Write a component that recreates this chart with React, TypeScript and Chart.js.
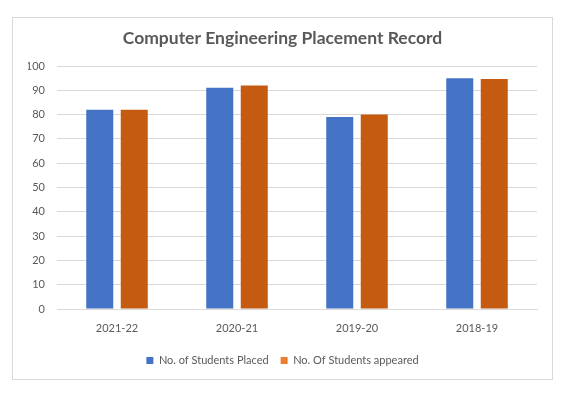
import React, { useEffect, useRef } from "react";
import { Chart, registerables } from "chart.js";

Chart.register(...registerables);

const chartTitle = "Computer Engineering Placement Record";
const categories = ["2021-22", "2020-21", "2019-20", "2018-19"];
const seriesNames = ["No. of Students Placed", "No. Of Students appeared"];
const placed = [82, 91, 79, 95];
const appeared = [82, 92, 80, 94.6];
const yMin = 0;
const yMax = 100;
const yStep = 10;

const BLUE = "#4472C4";
const ORANGE_BAR = "#C55A11";
const ORANGE_LEGEND = "#ED7D31";
const TEXT = "#595959";
const GRID = "#D9D9D9";
const FONT = "Lato";

export default function App() {
  const ref = useRef<HTMLCanvasElement>(null);

  useEffect(() => {
    document.body.style.margin = "0";
    const legendColors = [BLUE, ORANGE_LEGEND];
    const chart = new Chart(ref.current!, {
      type: "bar",
      data: {
        labels: categories,
        datasets: [
          {
            label: seriesNames[0],
            data: placed,
            backgroundColor: BLUE,
            categoryPercentage: 0.575,
            barPercentage: 0.783,
          },
          {
            label: seriesNames[1],
            data: appeared,
            backgroundColor: ORANGE_BAR,
            categoryPercentage: 0.575,
            barPercentage: 0.783,
          },
        ],
      },
      options: {
        responsive: false,
        animation: false,
        layout: { padding: { left: 15, right: 15, top: 0, bottom: 3 } },
        plugins: {
          title: {
            display: true,
            text: chartTitle,
            color: TEXT,
            font: { family: FONT, size: 17.5, weight: "bold", lineHeight: 1.2 },
            padding: { top: 9.5, bottom: 17.5 },
          },
          legend: {
            position: "bottom",
            labels: {
              boxWidth: 7,
              boxHeight: 7,
              padding: 12,
              color: TEXT,
              font: { family: FONT, size: 11 },
              generateLabels: (c: any) =>
                c.data.datasets.map((ds: any, i: number) => ({
                  text: ds.label,
                  fillStyle: legendColors[i],
                  strokeStyle: legendColors[i],
                  lineWidth: 0,
                  fontColor: TEXT,
                  hidden: false,
                  datasetIndex: i,
                })),
            },
          },
          tooltip: { enabled: false },
        },
        scales: {
          x: {
            grid: { display: false, drawTicks: false },
            border: { display: true, color: GRID, width: 1 },
            ticks: {
              color: TEXT,
              font: { family: FONT, size: 11 },
              padding: 13,
            },
            afterFit: (s: any) => {
              s.height = 34;
            },
          },
          y: {
            min: yMin,
            max: yMax,
            grid: { color: GRID, drawTicks: false },
            border: { display: false },
            ticks: {
              stepSize: yStep,
              color: TEXT,
              font: { family: FONT, size: 11 },
              padding: 12,
            },
            afterFit: (s: any) => {
              s.width = 29;
            },
          },
        },
      },
    });
    return () => chart.destroy();
  }, []);

  return (
    <div style={{ position: "relative", width: 563, height: 395, background: "#fff" }}>
      <div
        style={{
          position: "absolute",
          left: 12,
          top: 17,
          width: 539,
          height: 361,
          border: "1px solid #D9D9D9",
        }}
      >
        <canvas
          ref={ref}
          width={539}
          height={361}
          style={{ display: "block", width: 539, height: 361 }}
        />
      </div>
    </div>
  );
}
